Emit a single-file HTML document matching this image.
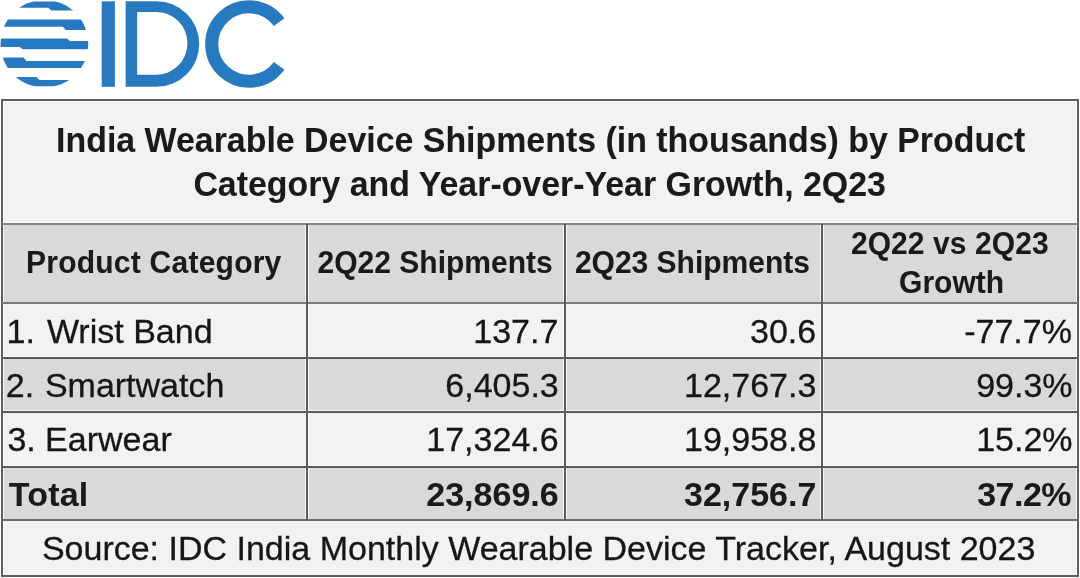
<!DOCTYPE html>
<html><head><meta charset="utf-8"><style>
html,body{margin:0;padding:0;background:#fff;width:1080px;height:578px;overflow:hidden;position:relative}
.r{position:absolute}
.t{position:absolute;height:0;line-height:0;white-space:pre;font-family:"Liberation Sans", sans-serif;color:#161616;-webkit-text-stroke:0.3px #161616}
.t.bd{-webkit-text-stroke:0.05px #161616;color:#1a1a1a}
</style></head><body>
<div id="w" style="position:absolute;left:0;top:0;width:1080px;height:578px;filter:blur(0.35px)">
<svg class="r" style="left:0;top:0" width="300" height="95" viewBox="0 0 300 95">
<defs><clipPath id="gc"><circle cx="44.4" cy="43.8" r="43.9"/></clipPath></defs>
<g fill="#287ac0" clip-path="url(#gc)">
<polygon points="0,1.4 100,1.4 100,10.6 51.2,10.6 48.3,7.8 0,7.8"/>
<polygon points="0,19.6 100,19.6 100,29.9 65.8,29.9 62.8,26.8 0,26.8"/>
<polygon points="0,38.5 67,38.5 70,41.1 100,41.1 100,49.3 22.8,49.3 19.7,47 0,47"/>
<polygon points="0,57.4 23.5,57.4 26.5,61 100,61 100,68 0,68"/>
<polygon points="0,76.9 36.3,76.9 39.5,80.1 100,80.1 100,86.3 0,86.3"/>
</g>
<rect x="101.7" y="1.3" width="13.2" height="85.5" fill="#287ac0"/>
<path fill="#287ac0" fill-rule="evenodd" d="M125.6,1.3 H156.5 A42.75,42.75 0 0 1 156.5,86.8 H125.6 Z M137.2,11.9 H156 A31.45,31.45 0 0 1 156,74.8 H137.2 Z"/>
<path fill="none" stroke="#287ac0" stroke-width="13.1" d="M279.1,22.1 A37.25,37.25 0 1 0 279.1,65.9"/>
</svg>
<div class="r" style="left:2px;top:100px;width:1076.00px;height:124.00px;background:#f2f2f2"></div>
<div class="r" style="left:2px;top:224px;width:1076.00px;height:79.00px;background:#d9d9d9"></div>
<div class="r" style="left:2px;top:303px;width:1076.00px;height:55.00px;background:#f2f2f2"></div>
<div class="r" style="left:2px;top:358px;width:1076.00px;height:54.00px;background:#d9d9d9"></div>
<div class="r" style="left:2px;top:412px;width:1076.00px;height:55.00px;background:#f2f2f2"></div>
<div class="r" style="left:2px;top:467px;width:1076.00px;height:53.00px;background:#d9d9d9"></div>
<div class="r" style="left:2px;top:520px;width:1076.00px;height:56.00px;background:#f2f2f2"></div>
<div class="r" style="left:3px;top:221.5px;width:1074.00px;height:1.20px;background:rgba(255,255,255,0.75)"></div>
<div class="r" style="left:3px;top:355.8px;width:1074.00px;height:1.20px;background:rgba(255,255,255,0.75)"></div>
<div class="r" style="left:3px;top:409.8px;width:1074.00px;height:1.20px;background:rgba(255,255,255,0.75)"></div>
<div class="r" style="left:3px;top:464.8px;width:1074.00px;height:1.20px;background:rgba(255,255,255,0.75)"></div>
<div class="r" style="left:304.8px;top:225px;width:1.00px;height:294.00px;background:rgba(255,255,255,0.75)"></div>
<div class="r" style="left:308.2px;top:225px;width:1.00px;height:294.00px;background:rgba(255,255,255,0.75)"></div>
<div class="r" style="left:562.8px;top:225px;width:1.00px;height:294.00px;background:rgba(255,255,255,0.75)"></div>
<div class="r" style="left:566.2px;top:225px;width:1.00px;height:294.00px;background:rgba(255,255,255,0.75)"></div>
<div class="r" style="left:819.8px;top:225px;width:1.00px;height:294.00px;background:rgba(255,255,255,0.75)"></div>
<div class="r" style="left:823.2px;top:225px;width:1.00px;height:294.00px;background:rgba(255,255,255,0.75)"></div>
<div class="r" style="left:3px;top:101px;width:1.00px;height:474.00px;background:rgba(255,255,255,0.75)"></div>
<div class="r" style="left:1076px;top:101px;width:1.00px;height:474.00px;background:rgba(255,255,255,0.75)"></div>
<div class="r" style="left:1px;top:99.2px;width:1078.00px;height:1.80px;background:#5e5e5e"></div>
<div class="r" style="left:1px;top:575px;width:1078.00px;height:1.80px;background:#5e5e5e"></div>
<div class="r" style="left:1px;top:99.2px;width:1.80px;height:477.60px;background:#5e5e5e"></div>
<div class="r" style="left:1077.2px;top:99.2px;width:1.70px;height:477.60px;background:#5e5e5e"></div>
<div class="r" style="left:3px;top:101px;width:1074.00px;height:1.00px;background:rgba(255,255,255,0.75)"></div>
<div class="r" style="left:2px;top:223px;width:1076.00px;height:2.00px;background:#858585"></div>
<div class="r" style="left:2px;top:302.2px;width:1076.00px;height:2.00px;background:#7a7a7a"></div>
<div class="r" style="left:2px;top:357px;width:1076.00px;height:1.60px;background:#5a5a5a"></div>
<div class="r" style="left:2px;top:411px;width:1076.00px;height:1.60px;background:#5a5a5a"></div>
<div class="r" style="left:2px;top:466px;width:1076.00px;height:1.60px;background:#5a5a5a"></div>
<div class="r" style="left:2px;top:519.2px;width:1076.00px;height:1.80px;background:#6e6e6e"></div>
<div class="r" style="left:306.3px;top:224px;width:1.60px;height:296.00px;background:#5a5a5a"></div>
<div class="r" style="left:564.3px;top:224px;width:1.60px;height:296.00px;background:#5a5a5a"></div>
<div class="r" style="left:821.3px;top:224px;width:1.60px;height:296.00px;background:#5a5a5a"></div>
<div class="t bd" style="left:56.10px;top:140.05px;font-size:33.9px;font-weight:bold;transform:scaleY(1.025);">India Wearable Device Shipments (in thousands) by Product</div>
<div class="t bd" style="left:193.40px;top:184.25px;font-size:33.9px;font-weight:bold;transform:scaleY(1.025);">Category and Year-over-Year Growth, 2Q23</div>
<div class="t bd" style="left:26.00px;top:262.41px;font-size:30px;font-weight:bold;letter-spacing:0.24px;transform:scaleY(1.07);">Product Category</div>
<div class="t bd" style="left:317.60px;top:262.41px;font-size:30px;font-weight:bold;transform:scaleY(1.07);">2Q22 Shipments</div>
<div class="t bd" style="left:574.90px;top:262.41px;font-size:30px;font-weight:bold;transform:scaleY(1.07);">2Q23 Shipments</div>
<div class="t bd" style="left:850.90px;top:243.10px;font-size:30px;font-weight:bold;letter-spacing:0.08px;transform:scaleY(1.06);">2Q22 vs 2Q23</div>
<div class="t bd" style="left:899.10px;top:282.11px;font-size:30px;font-weight:bold;transform:scaleY(1.06);">Growth</div>
<div class="t" style="left:6.50px;top:330.82px;font-size:34px;">1.</div>
<div class="t" style="left:46.90px;top:330.82px;font-size:34px;">Wrist Band</div>
<div class="t" style="left:473.30px;top:330.82px;font-size:34px;">137.7</div>
<div class="t" style="left:750.00px;top:330.82px;font-size:34px;">30.6</div>
<div class="t" style="left:964.20px;top:330.82px;font-size:34px;">-77.7%</div>
<div class="t" style="left:5.80px;top:385.02px;font-size:34px;">2.</div>
<div class="t" style="left:44.90px;top:385.02px;font-size:34px;">Smartwatch</div>
<div class="t" style="left:445.30px;top:385.02px;font-size:34px;">6,405.3</div>
<div class="t" style="left:684.00px;top:385.02px;font-size:34px;">12,767.3</div>
<div class="t" style="left:976.20px;top:385.02px;font-size:34px;">99.3%</div>
<div class="t" style="left:7.40px;top:439.22px;font-size:34px;">3.</div>
<div class="t" style="left:45.10px;top:439.22px;font-size:34px;">Earwear</div>
<div class="t" style="left:426.30px;top:439.22px;font-size:34px;">17,324.6</div>
<div class="t" style="left:684.00px;top:439.22px;font-size:34px;">19,958.8</div>
<div class="t" style="left:976.20px;top:439.22px;font-size:34px;">15.2%</div>
<div class="t bd" style="left:8.80px;top:493.52px;font-size:34px;font-weight:bold;letter-spacing:0.2px;">Total</div>
<div class="t bd" style="left:426.30px;top:493.52px;font-size:34px;font-weight:bold;">23,869.6</div>
<div class="t bd" style="left:684.00px;top:493.52px;font-size:34px;font-weight:bold;">32,756.7</div>
<div class="t bd" style="left:977.20px;top:493.52px;font-size:34px;font-weight:bold;letter-spacing:-0.5px;">37.2%</div>
<div class="t" style="left:41.90px;top:548.22px;font-size:34px;">Source: IDC India Monthly Wearable Device Tracker, August 2023</div>
</div></body></html>
